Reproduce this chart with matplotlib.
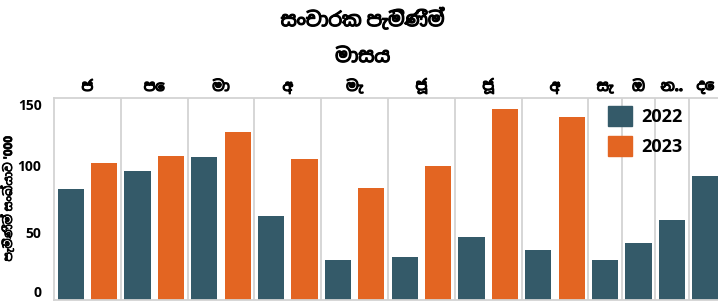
import matplotlib
matplotlib.use('Agg')
import matplotlib.pyplot as plt
import matplotlib.patheffects as pe
from matplotlib import font_manager
from matplotlib.ft2font import FT2Font
from matplotlib.patches import Patch

# data, thousands of arrivals
months = ['ජ', 'පෙ', 'මා', 'අ', 'මැ', 'ජූ', 'ජූ', 'අ', 'සැ', 'ඔ', 'න..', 'දෙ']
v2022 = [82.8, 96.3, 106.7, 62.7, 29.9, 32.1, 47.0, 37.3, 29.9, 42.5, 59.7, 92.5]
v2023 = [102.2, 107.5, 125.4, 105.2, 83.6, 100.0, 142.5, 136.6]
yticks = [0, 50, 100, 150]

c22 = '#345a69'
c23 = '#e36522'
grid = '#d3d3d3'

# look for something that can draw sinhala
def has_sinhala(path):
    try:
        return 0x0DC3 in FT2Font(path).get_charmap()
    except Exception:
        return False

sin_fonts = []
for f in font_manager.fontManager.ttflist:
    if f.name not in sin_fonts and has_sinhala(f.fname):
        sin_fonts.append(f.name)
sin_fonts.sort(key=lambda n: ('Mono' in n, 'Sans' not in n))
plt.rcParams['font.family'] = ['Open Sans', 'DejaVu Sans'] + sin_fonts[:1]

# sinhala font has no bold, so fake it with a thin stroke
heavy = [pe.withStroke(linewidth=0.9, foreground='black')]
light = [pe.withStroke(linewidth=0.5, foreground='black')]

fig = plt.figure(figsize=(7.18, 3.01), dpi=100)
W, H = 718, 301
ax = fig.add_axes([54 / W, 1 / H, 664 / W, 202 / H])

# slot layout: a month gets one slot per year it has data for
x22, x23, centers, edges = [], [], [], []
pos = 0
for i, m in enumerate(months):
    n = 2 if i < len(v2023) else 1
    x22.append(pos + 0.5)
    if n == 2:
        x23.append(pos + 1.5)
    centers.append(pos + n / 2)
    pos += n
    edges.append(pos)

ax.bar(x22, v2022, width=0.78, color=c22, zorder=2)
ax.bar(x23, v2023, width=0.78, color=c23, zorder=2)

for e in edges[:-1]:
    ax.axvline(e, color=grid, lw=1.3, zorder=1)

ax.set_xlim(0, 664 / 33.4)
ax.set_ylim(0, 150.7)

ax.xaxis.tick_top()
ax.set_xticks(centers)
ax.set_xticklabels(months, fontsize=10.5, fontweight='bold')
ax.tick_params(axis='x', length=0, pad=3)
for t in ax.get_xticklabels():
    t.set_path_effects(heavy)

ax.set_yticks(yticks)
ax.set_yticklabels([str(t) for t in yticks], fontsize=10, fontweight='bold')
ax.tick_params(axis='y', length=0, pad=9)
ylabs = ax.get_yticklabels()
ylabs[0].set_va('bottom')
ylabs[-1].set_va('top')

ax.set_ylabel("පැමිණීම් සංඛ්යාව '000", fontsize=8.5, fontweight='bold',
              path_effects=light)
ax.yaxis.set_label_coords(-39 / 664, 0.5)

for s in ['left', 'top', 'bottom']:
    ax.spines[s].set_color(grid)
    ax.spines[s].set_linewidth(1.3)
ax.spines['right'].set_visible(False)

fig.text(0.505, 1 - 20 / H, 'සංචාරක පැමිණීම්', ha='center', va='center',
         fontsize=14, fontweight='bold', path_effects=heavy)
fig.text(0.505, 1 - 57 / H, 'මාසය', ha='center', va='center',
         fontsize=14, fontweight='bold', path_effects=heavy)

handles = [Patch(color=c22, label='2022'), Patch(color=c23, label='2023')]
leg = ax.legend(handles=handles, loc='upper left',
                bbox_to_anchor=(608 / W, 1 - 106 / H), bbox_transform=fig.transFigure,
                frameon=False, borderpad=0, borderaxespad=0,
                handlelength=1.35, handleheight=1.35, handletextpad=0.5,
                labelspacing=0.55, prop={'size': 13, 'weight': 'bold'})

fig.savefig('out.png', dpi=100)
